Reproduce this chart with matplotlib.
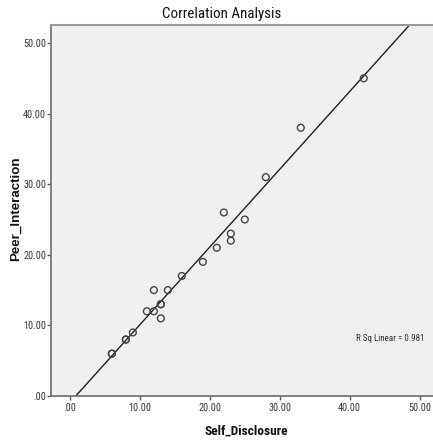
import matplotlib
matplotlib.use("Agg")
import matplotlib.pyplot as plt
import numpy as np
from matplotlib import font_manager

names = {f.name for f in font_manager.fontManager.ttflist}
narrow = next((n for n in ["Liberation Sans Narrow", "Arial Narrow", "Roboto Condensed",
                           "Archivo Narrow", "PT Sans Narrow", "Liberation Sans"] if n in names), "DejaVu Sans")
plt.rcParams['font.family'] = [narrow, 'DejaVu Sans']

self_disclosure = [6, 6, 8, 8, 9, 11, 12, 12, 13, 13, 13, 14, 16, 19, 21, 22, 23, 23, 25, 28, 33, 42]
peer_interaction = [6, 6, 8, 8, 9, 12, 12, 15, 13, 13, 11, 15, 17, 19, 21, 26, 23, 22, 25, 31, 38, 45]
tick_values = [0, 10, 20, 30, 40, 50]
tick_labels = [".00", "10.00", "20.00", "30.00", "40.00", "50.00"]
r_sq_text = "R Sq Linear = 0.981"

fig = plt.figure(figsize=(4.33, 4.40), dpi=100)
ax = fig.add_axes([0.1178, 0.1, 0.8822, 0.8439])
ax.set_facecolor("#F0F0F0")

x = np.array(self_disclosure, dtype=float)
y = np.array(peer_interaction, dtype=float)
ax.scatter(x, y, s=24, facecolors="none", edgecolors="#444444", linewidths=1.0, zorder=3)

xlim = (-2.7, 51.9)
ylim = (0, 52.6)
slope, intercept = np.polyfit(x, y, 1)
xs = np.array([(ylim[0] - intercept) / slope, (ylim[1] - intercept) / slope])
ax.plot(xs, slope * xs + intercept, color="#222222", lw=1.0, zorder=2)

ax.set_xlim(*xlim)
ax.set_ylim(*ylim)
ax.set_xticks(tick_values)
ax.set_xticklabels(tick_labels)
ax.set_yticks(tick_values)
ax.set_yticklabels(tick_labels)
ax.tick_params(direction="out", length=3.0, width=1.0, color="#555555",
               labelsize=7.3, labelcolor="#333333")
ax.tick_params(axis="y", pad=0.5)
ax.tick_params(axis="x", pad=2)

for s in ["left", "bottom"]:
    ax.spines[s].set_color("#777777")
    ax.spines[s].set_linewidth(1.3)
ax.spines["top"].set_color("#999999")
ax.spines["top"].set_linewidth(1.5)
ax.spines["right"].set_visible(False)

ax.text(50.6, 8.2, r_sq_text, ha="right", va="center", fontsize=6.5, color="#333333")

fig.text(0.5127, 1 - 14 / 440, "Correlation Analysis", ha="center", va="center",
         fontsize=10.8, color="#111111")
fig.text(0.5682, 1 - 431 / 440, "Self_Disclosure", ha="center", va="center",
         fontsize=9.6, fontweight="bold", color="#111111")
fig.text(15.5 / 433, 1 - 209 / 440, "Peer_Interaction", ha="center", va="center", rotation=90,
         fontsize=9.6, fontweight="bold", color="#111111", family=["Liberation Sans", "DejaVu Sans"])

fig.savefig("out.png", dpi=100, facecolor="white")
